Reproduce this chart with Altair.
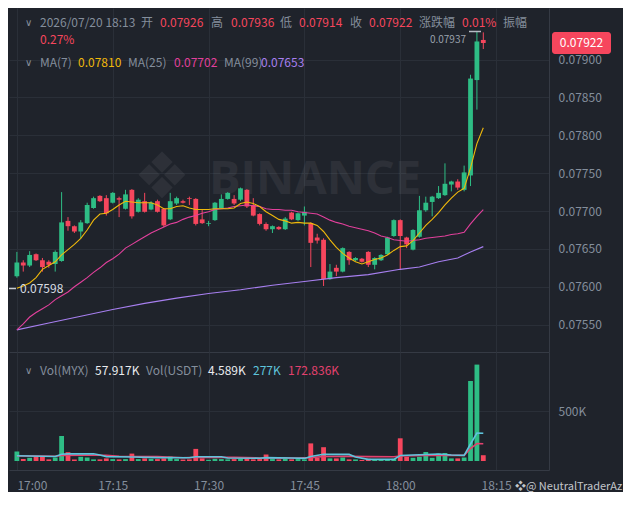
import altair as alt
import pandas as pd

# ---------------- data ----------------
minutes = list(range(74))  # 17:00 ... 18:13, one candle per minute

opens = [0.07614, 0.07632, 0.07628, 0.07643, 0.07635, 0.07633, 0.07630, 0.07634, 0.07687, 0.07680,
         0.07673, 0.07684, 0.07704, 0.07720, 0.07717, 0.07711, 0.07717, 0.07703, 0.07728, 0.07699,
         0.07713, 0.07702, 0.07713, 0.07703, 0.07689, 0.07710, 0.07713, 0.07717, 0.07716, 0.07689,
         0.07683, 0.07688, 0.07704, 0.07716, 0.07716, 0.07715, 0.07728, 0.07708, 0.07696, 0.07683,
         0.07676, 0.07679, 0.07676, 0.07698, 0.07688, 0.07694, 0.07684, 0.07665, 0.07662, 0.07610,
         0.07625, 0.07620, 0.07646, 0.07635, 0.07637, 0.07646, 0.07629, 0.07635, 0.07643, 0.07667,
         0.07688, 0.07665, 0.07649, 0.07666, 0.07701, 0.07712, 0.07717, 0.07721, 0.07735, 0.07739,
         0.07728, 0.07747, 0.07873, 0.07926]
highs = [0.07646, 0.07635, 0.07647, 0.07644, 0.07638, 0.07635, 0.07648, 0.07725, 0.07692, 0.07681,
         0.07688, 0.07711, 0.07719, 0.07721, 0.07721, 0.07725, 0.07719, 0.07728, 0.07729, 0.07717,
         0.07724, 0.07713, 0.07715, 0.07704, 0.07724, 0.07719, 0.07715, 0.07719, 0.07717, 0.07702,
         0.07687, 0.07712, 0.07722, 0.07725, 0.07721, 0.07731, 0.07729, 0.07717, 0.07697, 0.07685,
         0.07681, 0.07680, 0.07692, 0.07699, 0.07698, 0.07706, 0.07685, 0.07670, 0.07664, 0.07630,
         0.07629, 0.07652, 0.07647, 0.07639, 0.07638, 0.07647, 0.07639, 0.07643, 0.07666, 0.07689,
         0.07689, 0.07666, 0.07676, 0.07720, 0.07719, 0.07720, 0.07733, 0.07763, 0.07740, 0.07742,
         0.07760, 0.07880, 0.07937, 0.07936]
lows = [0.07612, 0.07620, 0.07626, 0.07634, 0.07620, 0.07625, 0.07620, 0.07633, 0.07674, 0.07671,
        0.07664, 0.07683, 0.07703, 0.07712, 0.07694, 0.07710, 0.07692, 0.07702, 0.07690, 0.07698,
        0.07698, 0.07701, 0.07698, 0.07679, 0.07688, 0.07708, 0.07710, 0.07708, 0.07681, 0.07683,
        0.07680, 0.07687, 0.07703, 0.07715, 0.07708, 0.07713, 0.07704, 0.07693, 0.07681, 0.07674,
        0.07671, 0.07675, 0.07675, 0.07688, 0.07687, 0.07681, 0.07626, 0.07657, 0.07601, 0.07609,
        0.07614, 0.07619, 0.07629, 0.07634, 0.07632, 0.07626, 0.07623, 0.07634, 0.07642, 0.07666,
        0.07623, 0.07651, 0.07648, 0.07665, 0.07699, 0.07693, 0.07716, 0.07720, 0.07726, 0.07728,
        0.07726, 0.07733, 0.07834, 0.07914]
closes = [0.07632, 0.07628, 0.07642, 0.07635, 0.07626, 0.07629, 0.07646, 0.07685, 0.07680, 0.07673,
          0.07685, 0.07708, 0.07717, 0.07713, 0.07697, 0.07724, 0.07715, 0.07722, 0.07693, 0.07715,
          0.07699, 0.07711, 0.07699, 0.07681, 0.07713, 0.07717, 0.07711, 0.07716, 0.07683, 0.07684,
          0.07684, 0.07711, 0.07716, 0.07724, 0.07710, 0.07730, 0.07706, 0.07694, 0.07683, 0.07676,
          0.07680, 0.07676, 0.07690, 0.07689, 0.07697, 0.07699, 0.07658, 0.07661, 0.07610, 0.07620,
          0.07620, 0.07651, 0.07635, 0.07638, 0.07633, 0.07629, 0.07638, 0.07642, 0.07665, 0.07688,
          0.07667, 0.07656, 0.07675, 0.07701, 0.07711, 0.07719, 0.07724, 0.07736, 0.07739, 0.07731,
          0.07751, 0.07875, 0.07924, 0.07922]
volumes = [96000, 19000, 32000, 48000, 42000, 16000, 35000, 250000, 88000, 16000,
           42000, 35000, 16000, 16000, 26000, 19000, 16000, 19000, 74000, 19000,
           26000, 22000, 19000, 26000, 45000, 19000, 14000, 16000, 121000, 26000,
           12000, 22000, 19000, 16000, 19000, 22000, 26000, 16000, 19000, 64000,
           19000, 16000, 22000, 16000, 19000, 16000, 176000, 32000, 138000, 26000,
           26000, 35000, 16000, 16000, 10000, 22000, 16000, 16000, 16000, 22000,
           227000, 42000, 32000, 42000, 90000, 32000, 74000, 80000, 26000, 26000,
           35000, 800000, 964000, 57917]
ma7 = [0.07598, 0.07601, 0.07605, 0.07612, 0.07623, 0.07628, 0.07633, 0.07642, 0.07649, 0.07656,
       0.07664, 0.07675, 0.07688, 0.07696, 0.07697, 0.07702, 0.07708, 0.07713, 0.07712, 0.07711,
       0.07711, 0.07711, 0.07708, 0.07703, 0.07703, 0.07706, 0.07707, 0.07704, 0.07702, 0.07702,
       0.07702, 0.07703, 0.07703, 0.07703, 0.07704, 0.07710, 0.07712, 0.07710, 0.07706, 0.07699,
       0.07694, 0.07689, 0.07687, 0.07684, 0.07685, 0.07684, 0.07684, 0.07681, 0.07673, 0.07662,
       0.07652, 0.07644, 0.07638, 0.07633, 0.07630, 0.07633, 0.07636, 0.07638, 0.07642, 0.07648,
       0.07653, 0.07654, 0.07661, 0.07671, 0.07681, 0.07689, 0.07698, 0.07708, 0.07717, 0.07725,
       0.07730, 0.07757, 0.07789, 0.07810]
ma25 = [0.07543, 0.07551, 0.07560, 0.07566, 0.07571, 0.07576, 0.07583, 0.07588, 0.07593, 0.07600,
        0.07606, 0.07612, 0.07619, 0.07625, 0.07632, 0.07637, 0.07643, 0.07651, 0.07656, 0.07661,
        0.07666, 0.07671, 0.07675, 0.07679, 0.07683, 0.07685, 0.07689, 0.07692, 0.07694, 0.07697,
        0.07699, 0.07702, 0.07703, 0.07704, 0.07706, 0.07707, 0.07708, 0.07707, 0.07706, 0.07703,
        0.07702, 0.07702, 0.07701, 0.07701, 0.07699, 0.07698, 0.07697, 0.07696, 0.07692, 0.07688,
        0.07685, 0.07683, 0.07680, 0.07678, 0.07676, 0.07674, 0.07671, 0.07667, 0.07665, 0.07662,
        0.07661, 0.07660, 0.07661, 0.07662, 0.07664, 0.07665, 0.07666, 0.07667, 0.07669, 0.07670,
        0.07672, 0.07683, 0.07693, 0.07702]
ma99_min = [0, 5, 10, 15, 20, 25, 30, 35, 40, 45, 50, 55, 60, 63, 66, 69, 71, 73]
ma99 = [0.07543, 0.07552, 0.07561, 0.07570, 0.07578, 0.07585, 0.07591, 0.07596, 0.07602,
        0.07607, 0.07612, 0.07616, 0.07623, 0.07626, 0.07633, 0.07638, 0.07646, 0.07653]
vma5_min = [0, 4, 6, 7, 8, 12, 13, 14, 18, 22, 27, 28, 32, 33, 38, 39, 43, 45, 46, 48,
            52, 53, 55, 59, 60, 63, 66, 68, 70, 71, 72, 73]
vma5 = [52000, 48000, 45000, 68000, 71000, 72000, 60000, 44000, 40000, 34000, 32000, 42000,
        42000, 30000, 28000, 34000, 30000, 26000, 45000, 68000, 66000, 40000, 16000, 16000,
        55000, 62000, 70000, 60000, 56000, 170000, 280000, 277000]
vma10_min = [0, 6, 7, 10, 14, 16, 22, 26, 28, 34, 38, 44, 46, 48, 52, 55, 59, 60, 64, 68,
             70, 71, 72, 73]
vma10 = [51000, 48000, 56000, 58000, 58000, 48000, 45000, 32000, 38000, 36000, 30000, 30000,
         34000, 45000, 48000, 44000, 43000, 50000, 56000, 58000, 56000, 125000, 175000, 172836]
price_ticks = [0.0755, 0.0760, 0.0765, 0.0770, 0.0775, 0.0780, 0.0785, 0.0790]

# ---------------- style ----------------
BG = "#1f232b"
GRID = "#2a2f38"
SEP = "#353a44"
TXT = "#848e9c"
WHITE = "#eaecef"
UP = "#2ebd85"
DOWN = "#f6465d"
C_MA7 = "#f0b90b"
C_MA25 = "#e2409c"
C_MA99 = "#a77ff0"
C_V5 = "#5ec4dc"
C_V10 = "#e2416e"
FONT = "Noto Sans CJK SC"
W, H_MAIN, H_VOL = 540, 344, 118

base = pd.Timestamp("2026-07-20 17:00")
tt = lambda ms: [base + pd.Timedelta(minutes=m) for m in ms]
df = pd.DataFrame({"t": tt(minutes), "open": opens, "high": highs, "low": lows,
                   "close": closes, "v": volumes, "ma7": ma7, "ma25": ma25})
df["dir"] = ["up" if c >= o else "down" for o, c in zip(opens, closes)]
df99 = pd.DataFrame({"t": tt(ma99_min), "ma99": ma99})
dv5 = pd.DataFrame({"t": tt(vma5_min), "m": vma5})
dv10 = pd.DataFrame({"t": tt(vma10_min), "m": vma10})
one = pd.DataFrame({"a": [0]})


def T(h, m, s=0):
    return alt.DateTime(year=2026, month=7, date=20, hours=h, minutes=m, seconds=s)


XDOM = [T(16, 59, 33), T(18, 22, 30)]
TICKS = [T(17, 0), T(17, 15), T(17, 30), T(17, 45), T(18, 0), T(18, 15)]
xscale = alt.Scale(domain=XDOM, nice=False)
main_xaxis = alt.Axis(values=TICKS, grid=True, gridColor=GRID, labels=False, ticks=False,
                      domain=True, domainColor=SEP, title=None)
vol_xaxis = alt.Axis(values=TICKS, format="%H:%M", grid=True, gridColor=GRID, labels=True,
                     labelColor=TXT, labelFontSize=12, labelFont=FONT, labelPadding=10,
                     labelFlush=10, ticks=False, domain=True, domainColor=SEP, title=None)
yscale = alt.Scale(domain=[0.075138, 0.079682], nice=False, zero=False)
main_yaxis = alt.Axis(orient="right", values=price_ticks, format=".5f", grid=True,
                      gridColor=GRID, ticks=False, domain=True, domainColor=SEP,
                      labelColor=TXT, labelFontSize=12, labelFont=FONT, labelPadding=9,
                      title=None)
vscale = alt.Scale(domain=[-90000, 1090000], nice=False, zero=False)
vol_yaxis = alt.Axis(orient="right", values=[500000], labelExpr="'500K'", grid=True,
                     gridColor=GRID, ticks=False, domain=True, domainColor=SEP,
                     labelColor=TXT, labelFontSize=12, labelFont=FONT, labelPadding=9,
                     title=None)
color = alt.Color("dir:N", scale=alt.Scale(domain=["up", "down"], range=[UP, DOWN]), legend=None)


def XM():
    return alt.X("t:T", scale=xscale, axis=main_xaxis)


def XV():
    return alt.X("t:T", scale=xscale, axis=vol_xaxis)


def YM(f):
    return alt.Y(f, scale=yscale, axis=main_yaxis)


def YV(f):
    return alt.Y(f, scale=vscale, axis=vol_yaxis)


def label(txt, x, y, col, size=12, align="left", font=FONT, weight="normal", opacity=1.0):
    return alt.Chart(one).mark_text(text=txt, align=align, baseline="middle", fontSize=size,
                                    color=col, font=font, fontWeight=weight,
                                    opacity=opacity).encode(x=alt.value(x), y=alt.value(y))


# ---------------- main panel ----------------
wm_logo = label("❖", 153, 171, "#ffffff", size=64, align="center", font="DejaVu Sans", opacity=0.06)
wm_text = label("BINANCE", 306, 172, "#ffffff", size=47, align="center", font="Open Sans",
                weight="bold", opacity=0.06)

wick = alt.Chart(df).mark_rule(strokeWidth=1).encode(x=XM(), y=YM("low:Q"), y2="high:Q", color=color)
body = alt.Chart(df).mark_bar(size=4.8).encode(x=XM(), y=YM("open:Q"), y2="close:Q", color=color)
l7 = alt.Chart(df).mark_line(color=C_MA7, strokeWidth=1.1).encode(x=XM(), y=YM("ma7:Q"))
l25 = alt.Chart(df).mark_line(color=C_MA25, strokeWidth=1.1).encode(x=XM(), y=YM("ma25:Q"))
l99 = alt.Chart(df99).mark_line(color=C_MA99, strokeWidth=1.1).encode(x=XM(), y=YM("ma99:Q"))

hdr = []
y1, y2, y3 = 15, 32, 55
hdr.append(label("∨", 16, y1, TXT, size=10, font="DejaVu Sans"))
for txt, x, col in [("2026/07/20 18:13", 31, TXT), ("开", 132, TXT), ("0.07926", 151, DOWN),
                    ("高", 202, TXT), ("0.07936", 222, DOWN), ("低", 271, TXT),
                    ("0.07914", 290, DOWN), ("收", 341, TXT), ("0.07922", 360, DOWN),
                    ("涨跌幅", 410, TXT), ("0.01%", 453, DOWN), ("振幅", 494, TXT)]:
    hdr.append(label(txt, x, y1, col))
hdr.append(label("0.27%", 31, y2, DOWN))
hdr.append(label("∨", 16, y3, TXT, size=10, font="DejaVu Sans"))
for txt, x, col in [("MA(7)", 31, TXT), ("0.07810", 69, C_MA7), ("MA(25)", 119, TXT),
                    ("0.07702", 165, C_MA25), ("MA(99)", 215, TXT), ("0.07653", 252, C_MA99)]:
    hdr.append(label(txt, x, y3, col))

tag_rect = alt.Chart(one).mark_rect(color=DOWN, cornerRadius=3).encode(
    x=alt.value(543), x2=alt.value(602), y=alt.value(24), y2=alt.value(46))
tag_text = label("0.07922", 572.5, 35, "#ffffff", align="center")
hi_rule = alt.Chart(one).mark_rule(color="#b7bdc6", strokeWidth=1.5).encode(
    x=alt.value(460), x2=alt.value(472), y=alt.value(23.5))
hi_text = label("0.07937", 457, 32, "#9aa1ab", size=10, align="right")
lo_rule = alt.Chart(one).mark_rule(color="#c8ccd2", strokeWidth=1.5).encode(
    x=alt.value(0), x2=alt.value(7), y=alt.value(280.5))
lo_text = label("0.07598", 11, 280.5, "#d8dce2")

main = alt.layer(wm_logo, wm_text, wick, body, l99, l25, l7, *hdr, tag_rect, tag_text,
                 hi_rule, hi_text, lo_rule, lo_text).properties(width=W, height=H_MAIN)

# ---------------- volume panel ----------------
vbars = alt.Chart(df).mark_bar(size=4.8).encode(x=XV(), y=YV("v:Q"), y2=alt.datum(0), color=color)
v5 = alt.Chart(dv5).mark_line(color=C_V5, strokeWidth=1.6).encode(x=XV(), y=YV("m:Q"))
v10 = alt.Chart(dv10).mark_line(color=C_V10, strokeWidth=1.6).encode(x=XV(), y=YV("m:Q"))
vy = 18.5
vh = [label("∨", 16, vy, TXT, size=10, font="DejaVu Sans")]
for txt, x, col in [("Vol(MYX)", 31, TXT), ("57.917K", 86, WHITE), ("Vol(USDT)", 137, TXT),
                    ("4.589K", 199, WHITE), ("277K", 244, C_V5), ("172.836K", 279, C_V10)]:
    vh.append(label(txt, x, vy, col))
wmark = label("❖@ NeutralTraderAz", 506, H_VOL + 17, "#d5d8dc", size=11, opacity=0.9)

vol = alt.layer(vbars, v10, v5, *vh, wmark).properties(width=W, height=H_VOL)

chart = alt.vconcat(main, vol, spacing=0).properties(padding=0).configure(
    background=BG, font=FONT).configure_view(stroke=None)

chart.save("out.html", embed_options={"renderer": "svg", "actions": False})
